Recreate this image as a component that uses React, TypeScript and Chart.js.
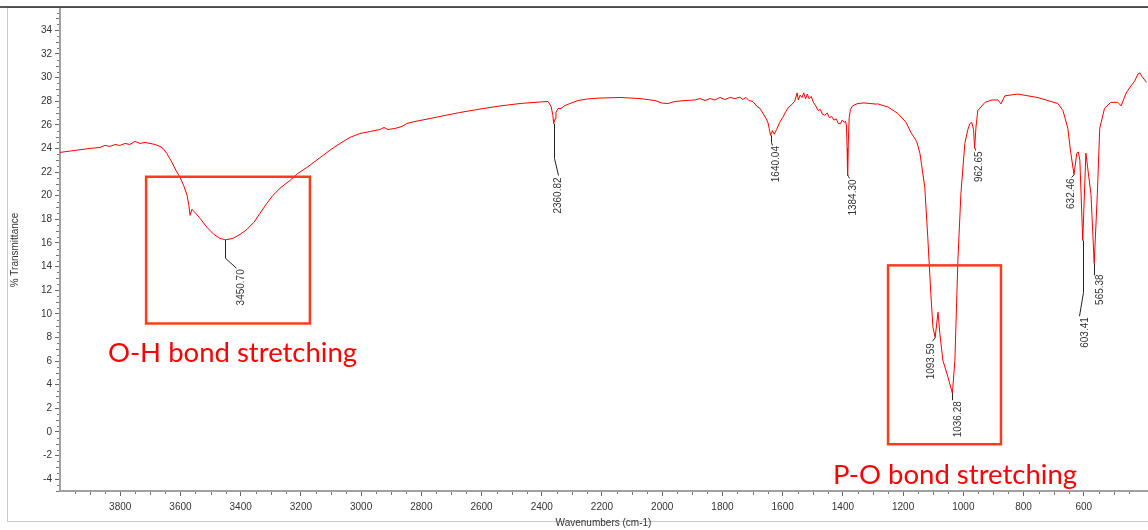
import { useEffect, useRef } from 'react';
import { Chart, registerables } from 'chart.js';

Chart.register(...registerables);

// ---------- data ----------
const highWn = [4000, 3950, 3900, 3867, 3851, 3834, 3817, 3801, 3784, 3768, 3751, 3734, 3718, 3701, 3684, 3668, 3658, 3645, 3628, 3615, 3601, 3588, 3578, 3572, 3568, 3562, 3552, 3535, 3512, 3489, 3469, 3450.7, 3425, 3402, 3379, 3356, 3336, 3313, 3293, 3266, 3236, 3210, 3180, 3153, 3127, 3100, 3070, 3037, 3004, 2970, 2937, 2924, 2911, 2887, 2864, 2848, 2821, 2771, 2721, 2672, 2605, 2539, 2472, 2406, 2379, 2369, 2363, 2360.82, 2356, 2353, 2346, 2336, 2323, 2306, 2280, 2250, 2207, 2140, 2074, 2024, 2001];
const highT = [23.66, 23.83, 24.0, 24.08, 24.25, 24.17, 24.33, 24.25, 24.42, 24.33, 24.59, 24.42, 24.5, 24.42, 24.33, 24.17, 24.0, 23.57, 22.81, 22.14, 21.54, 20.78, 20.02, 19.18, 18.33, 18.84, 18.59, 18.08, 17.32, 16.72, 16.39, 16.26, 16.39, 16.72, 17.15, 17.74, 18.5, 19.35, 20.02, 20.7, 21.29, 21.88, 22.39, 22.9, 23.4, 23.91, 24.42, 24.93, 25.26, 25.43, 25.6, 25.77, 25.6, 25.69, 25.86, 26.11, 26.28, 26.53, 26.79, 27.04, 27.33, 27.59, 27.8, 27.93, 27.97, 27.55, 26.79, 26.1, 26.5, 27.04, 27.38, 27.38, 27.63, 27.8, 28.05, 28.18, 28.26, 28.31, 28.22, 28.05, 27.84];

const midWn = [1981, 1958, 1924, 1891, 1874, 1858, 1841, 1825, 1808, 1792, 1775, 1758, 1742, 1732, 1722, 1712, 1699, 1685, 1675, 1665, 1655, 1649, 1645, 1640.04, 1634, 1628, 1620, 1610, 1600, 1590, 1580, 1570, 1560, 1552, 1548, 1542, 1536, 1530, 1524, 1518, 1512, 1505, 1498, 1490, 1482, 1475, 1468, 1460, 1452, 1445, 1437, 1430, 1422, 1415, 1408, 1402, 1396, 1391, 1388, 1386, 1384.3, 1382, 1379, 1375, 1368, 1360, 1350, 1330, 1310, 1290];
const midT = [27.8, 27.97, 28.05, 28.1, 28.22, 28.05, 28.22, 28.1, 28.31, 28.14, 28.31, 28.22, 28.33, 28.14, 28.31, 28.05, 27.97, 27.55, 27.38, 26.95, 26.53, 26.2, 25.7, 25.1, 25.5, 25.2, 25.6, 26.2, 26.6, 27.1, 27.5, 27.7, 28.0, 28.7, 28.1, 28.5, 28.3, 28.7, 28.2, 28.6, 28.2, 28.4, 27.9, 27.6, 27.2, 27.3, 26.9, 26.8, 27.0, 26.6, 26.7, 26.4, 26.5, 26.1, 26.1, 26.4, 26.2, 26.3, 25.9, 24.0, 21.7, 24.5, 26.6, 27.3, 27.6, 27.7, 27.8, 27.85, 27.8, 27.75];

const lowWn = [1284, 1250, 1217, 1190, 1174, 1155, 1144, 1128, 1118, 1108, 1101, 1093.59, 1084, 1078, 1068, 1051, 1036.28, 1028, 1018, 1008, 995, 985, 978, 972, 966, 962.65, 958, 952, 928, 905, 885, 875, 862, 819, 752, 686, 669, 653, 643, 632.46, 623, 618, 613, 603.41, 593, 576, 565.38, 555, 547, 531, 510, 487, 476, 459, 443, 431, 420, 414, 407, 392];
const lowT = [27.77, 27.5, 26.95, 26.2, 25.35, 24.6, 23.57, 20.7, 16.47, 11.74, 8.87, 8.0, 10.13, 8.35, 6.07, 4.64, 3.28, 6.07, 14.53, 20.19, 24.42, 25.6, 26.11, 26.2, 25.6, 24.0, 25.8, 27.2, 27.9, 28.1, 28.1, 27.77, 28.45, 28.6, 28.3, 27.8, 27.2, 25.7, 23.6, 21.8, 23.6, 23.7, 23.0, 16.2, 23.6, 20.1, 14.27, 20.1, 25.7, 27.4, 27.9, 27.9, 27.6, 28.7, 29.3, 29.7, 30.3, 30.4, 30.1, 29.6];

const xTickValues = [600, 800, 1000, 1200, 1400, 1600, 1800, 2000, 2200, 2400, 2600, 2800, 3000, 3200, 3400, 3600, 3800];
const yTickValues = [-4, -2, 0, 2, 4, 6, 8, 10, 12, 14, 16, 18, 20, 22, 24, 26, 28, 30, 32, 34];

// peak labels: knee / end / text positions in %T, horizontal offsets in px
const peakLabels = [
  { wn: 3450.7, text: '3450.70', kneeT: 14.7, endDx: 11, endT: 13.85, textDx: 16, textT: 13.77 },
  { wn: 2360.82, text: '2360.82', kneeT: 23.15, endDx: 4, endT: 21.71, textDx: 5, textT: 21.54 },
  { wn: 1640.04, text: '1640.04', kneeT: 24.5, endDx: 1, endT: 24.25, textDx: 6, textT: 24.2 },
  { wn: 1384.3, text: '1384.30', kneeT: 21.63, endDx: 1, endT: 21.46, textDx: 6, textT: 21.37 },
  { wn: 962.65, text: '962.65', kneeT: 23.9, endDx: 0, endT: 23.83, textDx: 5, textT: 23.74 },
  { wn: 1093.59, text: '1093.59', kneeT: 8.0, endDx: -3, endT: 7.68, textDx: -4, textT: 7.51 },
  { wn: 1036.28, text: '1036.28', kneeT: 2.69, endDx: 0, endT: 2.69, textDx: 6, textT: 2.6 },
  { wn: 632.46, text: '632.46', kneeT: 21.8, endDx: -3, endT: 21.54, textDx: -3, textT: 21.46 },
  { wn: 603.41, text: '603.41', kneeT: 11.82, endDx: -4, endT: 9.79, textDx: 3, textT: 9.71 },
  { wn: 565.38, text: '565.38', kneeT: 13.26, endDx: 0, endT: 13.26, textDx: 6, textT: 13.34 },
];

const boxes = [
  { wnFrom: 3714, wnTo: 3170, tFrom: 21.6, tTo: 9.18 },
  { wnFrom: 1250, wnTo: 875, tFrom: 14.1, tTo: -1.04 },
];
const notes = [
  { text: 'O-H bond stretching', wn: 3841, t: 5.88 },
  { text: 'P-O bond stretching', wn: 1433, t: -4.43 },
];

const FONT = '"Liberation Sans", Arial, sans-serif';

const wnAll = [...highWn, ...midWn, ...lowWn];
const tAll = [...highT, ...midT, ...lowT];
const points = wnAll.map((w, i) => ({ x: w, y: tAll[i] }));

const framePlugin = {
  id: 'frame',
  beforeDraw(chart: any) {
    const ctx = chart.ctx;
    ctx.save();
    ctx.fillStyle = '#ffffff';
    ctx.fillRect(0, 0, chart.width, chart.height);
    ctx.strokeStyle = '#c8c8c8';
    ctx.lineWidth = 1;
    ctx.strokeRect(7.5, 7.5, chart.width + 10, 514);
    ctx.strokeStyle = '#222';
    ctx.lineWidth = 1.5;
    ctx.beginPath();
    ctx.moveTo(0, 7);
    ctx.lineTo(chart.width, 7);
    ctx.stroke();
    ctx.restore();
  },
};

const minorTicksPlugin = {
  id: 'minorTicks',
  afterDraw(chart: any) {
    const { ctx, scales } = chart;
    const xs = scales.x;
    const ys = scales.y;
    ctx.save();
    ctx.strokeStyle = '#777';
    ctx.lineWidth = 1;
    ctx.beginPath();
    const axisY = ys.bottom + 1;
    for (let v = 400; v <= 4000; v += 50) {
      if (v % 200 === 0) continue;
      const px = Math.round(xs.getPixelForValue(v)) + 0.5;
      const len = v % 100 === 0 ? 3 : 2;
      ctx.moveTo(px, axisY);
      ctx.lineTo(px, axisY + len);
    }
    const axisX = xs.left - 1;
    for (let v = -5; v <= 35.5; v += 0.5) {
      if (v % 2 === 0) continue;
      const py = Math.round(ys.getPixelForValue(v)) + 0.5;
      const len = Number.isInteger(v) ? 3 : 2;
      ctx.moveTo(axisX, py);
      ctx.lineTo(axisX - len, py);
    }
    ctx.stroke();
    ctx.restore();
  },
};

const annotationPlugin = {
  id: 'annotations',
  afterDraw(chart: any) {
    const { ctx, scales } = chart;
    const xs = scales.x;
    const ys = scales.y;
    ctx.save();
    // boxes
    ctx.strokeStyle = '#ff3b1f';
    ctx.lineWidth = 2.5;
    boxes.forEach((b) => {
      const x1 = xs.getPixelForValue(b.wnFrom);
      const x2 = xs.getPixelForValue(b.wnTo);
      const y1 = ys.getPixelForValue(b.tFrom);
      const y2 = ys.getPixelForValue(b.tTo);
      ctx.strokeRect(x1, y1, x2 - x1, y2 - y1);
    });
    // notes
    ctx.fillStyle = '#ff0000';
    ctx.font = '27.5px Lato, "Open Sans", sans-serif';
    ctx.textAlign = 'left';
    ctx.textBaseline = 'alphabetic';
    notes.forEach((n) => {
      ctx.fillText(n.text, xs.getPixelForValue(n.wn), ys.getPixelForValue(n.t));
    });
    // peak labels
    peakLabels.forEach((p) => {
      const idx = wnAll.indexOf(p.wn);
      const tPeak = idx >= 0 ? tAll[idx] : p.kneeT;
      const px = xs.getPixelForValue(p.wn);
      const py = ys.getPixelForValue(tPeak);
      ctx.strokeStyle = '#222';
      ctx.lineWidth = 1;
      ctx.beginPath();
      ctx.moveTo(Math.round(px) + 0.5, py);
      ctx.lineTo(Math.round(px) + 0.5, ys.getPixelForValue(p.kneeT));
      ctx.lineTo(Math.round(px) + 0.5 + p.endDx, ys.getPixelForValue(p.endT));
      ctx.stroke();
      ctx.save();
      ctx.translate(px + p.textDx, ys.getPixelForValue(p.textT));
      ctx.rotate(-Math.PI / 2);
      ctx.fillStyle = '#333';
      ctx.font = '10px ' + FONT;
      ctx.textAlign = 'right';
      ctx.textBaseline = 'middle';
      ctx.fillText(p.text, 0, 0);
      ctx.restore();
    });
    ctx.restore();
  },
};

export default function App() {
  const ref = useRef<HTMLCanvasElement>(null);
  useEffect(() => {
    const chart = new Chart(ref.current as HTMLCanvasElement, {
      type: 'line',
      data: {
        datasets: [
          {
            data: points,
            borderColor: '#ff0000',
            borderWidth: 1,
            pointRadius: 0,
            tension: 0,
            fill: false,
          },
        ],
      },
      options: {
        animation: false,
        responsive: false,
        devicePixelRatio: 1,
        layout: { padding: { left: 8, top: 8, right: 1, bottom: 0 } },
        plugins: { legend: { display: false }, tooltip: { enabled: false } },
        scales: {
          x: {
            type: 'linear',
            reverse: true,
            min: 390,
            max: 4000,
            afterBuildTicks: (s: any) => {
              s.ticks = xTickValues.map((v) => ({ value: v }));
            },
            afterFit: (s: any) => {
              s.height = 39;
            },
            grid: { drawOnChartArea: false, tickLength: 5, tickColor: '#666' },
            border: { color: '#a0a0a0', width: 2 },
            ticks: {
              font: { family: FONT, size: 10 },
              color: '#333',
              padding: 5,
              maxRotation: 0,
              autoSkip: false,
              callback: (v: any) => String(v),
            },
            title: {
              display: true,
              text: 'Wavenumbers (cm-1)',
              font: { family: FONT, size: 10 },
              color: '#333',
              padding: { top: 0, bottom: 1 },
            },
          },
          y: {
            type: 'linear',
            min: -5,
            max: 35.8,
            afterBuildTicks: (s: any) => {
              s.ticks = yTickValues.map((v) => ({ value: v }));
            },
            afterFit: (s: any) => {
              s.width = 52;
            },
            grid: { drawOnChartArea: false, tickLength: 5, tickColor: '#666' },
            border: { color: '#a0a0a0', width: 2 },
            ticks: { font: { family: FONT, size: 10 }, color: '#333', padding: 3, autoSkip: false, callback: (v: any) => String(v) },
            title: {
              display: true,
              text: '% Transmittance',
              font: { family: FONT, size: 10 },
              color: '#333',
              padding: { top: 1, bottom: 0 },
            },
          },
        },
      },
      plugins: [framePlugin, minorTicksPlugin, annotationPlugin],
    } as any);
    return () => chart.destroy();
  }, []);
  return (
    <div style={{ position: 'fixed', left: 0, top: 0, width: 1148, height: 530, background: '#fff' }}>
      <canvas ref={ref} width={1148} height={530} style={{ display: 'block' }} />
    </div>
  );
}
